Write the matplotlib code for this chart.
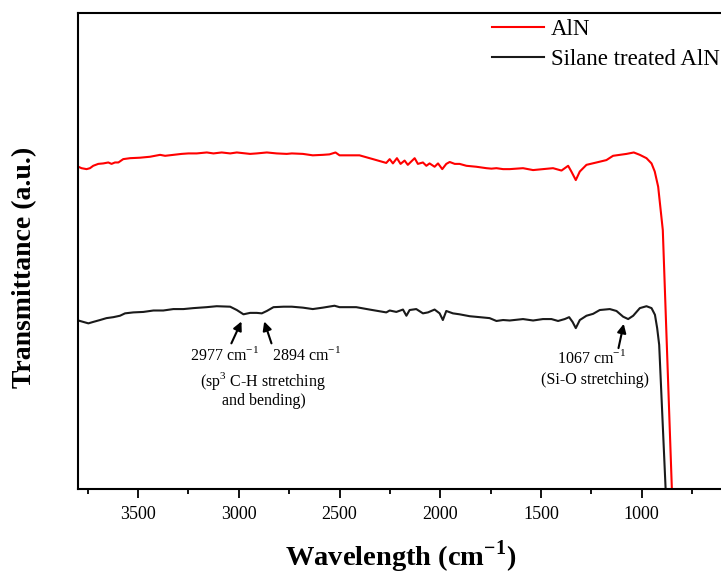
import numpy as np
import matplotlib
matplotlib.use("Agg")
import matplotlib.pyplot as plt

plt.rcParams['font.family'] = ['Liberation Serif', 'DejaVu Serif']
plt.rcParams['mathtext.fontset'] = 'custom'
plt.rcParams['mathtext.rm'] = 'Liberation Serif'
plt.rcParams['mathtext.bf'] = 'Liberation Serif:bold'

# AlN spectrum (wavenumber cm-1, transmittance a.u.)
aln_wn = [3822, 3797, 3781, 3756, 3739, 3723, 3698, 3673, 3648, 3632, 3615, 3598,
          3574, 3540, 3491, 3441, 3416, 3391, 3366, 3325, 3284, 3250, 3209, 3159,
          3126, 3085, 3043, 3010, 2944, 2911, 2861, 2812, 2762, 2737, 2682, 2633,
          2583, 2550, 2520, 2500, 2450, 2401, 2334, 2268, 2251, 2235, 2215, 2197,
          2177, 2161, 2127, 2111, 2086, 2069, 2053, 2028, 2011, 1990, 1970, 1953,
          1928, 1904, 1870, 1821, 1771, 1746, 1721, 1688, 1655, 1589, 1539, 1490,
          1440, 1398, 1365, 1349, 1327, 1307, 1274, 1224, 1175, 1142, 1075, 1039,
          1009, 976, 951, 935, 918, 895, 850, 820]
aln_t = [67.6, 67.7, 67.4, 67.2, 67.4, 67.9, 68.3, 68.4, 68.6, 68.3, 68.6, 68.6,
         69.3, 69.5, 69.6, 69.8, 70.0, 70.2, 70.0, 70.2, 70.4, 70.5, 70.5, 70.7,
         70.5, 70.7, 70.5, 70.7, 70.4, 70.5, 70.7, 70.5, 70.4, 70.5, 70.4, 70.1,
         70.2, 70.3, 70.7, 70.1, 70.1, 70.1, 69.3, 68.5, 69.3, 68.4, 69.5, 68.3,
         69.0, 68.1, 69.5, 68.3, 68.6, 67.9, 68.4, 67.7, 68.4, 67.2, 68.3, 68.7,
         68.3, 68.3, 67.9, 67.7, 67.4, 67.3, 67.4, 67.2, 67.2, 67.4, 67.0, 67.2,
         67.4, 66.9, 67.9, 66.7, 64.9, 66.7, 68.1, 68.6, 69.1, 70.0, 70.4, 70.7,
         70.2, 69.5, 68.4, 66.7, 63.5, 54.4, 0.0, -30.0]

# Silane treated AlN spectrum
sil_wn = [3822, 3797, 3772, 3747, 3723, 3689, 3657, 3623, 3590, 3565, 3524, 3474,
          3424, 3375, 3325, 3275, 3226, 3160, 3110, 3043, 3010, 2977, 2944, 2911,
          2886, 2861, 2828, 2778, 2737, 2682, 2633, 2583, 2525, 2500, 2417, 2351,
          2268, 2251, 2218, 2185, 2168, 2152, 2119, 2086, 2061, 2028, 2003, 1987,
          1970, 1937, 1904, 1854, 1804, 1755, 1721, 1688, 1655, 1589, 1539, 1490,
          1448, 1415, 1382, 1360, 1343, 1327, 1307, 1274, 1241, 1208, 1158, 1125,
          1092, 1067, 1042, 1009, 976, 951, 934, 923, 913, 881, 850]
sil_t = [35.3, 35.4, 35.1, 34.8, 35.1, 35.5, 35.9, 36.1, 36.4, 36.9, 37.1, 37.2,
         37.5, 37.5, 37.8, 37.8, 38.0, 38.2, 38.4, 38.3, 37.6, 36.7, 37.0, 37.0,
         36.9, 37.4, 38.2, 38.3, 38.3, 38.1, 37.8, 38.1, 38.5, 38.2, 38.2, 37.7,
         37.1, 37.5, 37.2, 37.7, 36.4, 37.6, 37.8, 36.9, 37.1, 37.7, 36.9, 35.5,
         37.4, 36.9, 36.7, 36.3, 36.1, 35.9, 35.3, 35.5, 35.4, 35.7, 35.4, 35.7,
         35.7, 35.3, 35.7, 36.1, 35.1, 33.8, 35.5, 36.4, 36.8, 37.6, 37.8, 37.4,
         36.2, 35.7, 36.4, 38.0, 38.4, 38.0, 36.6, 33.8, 30.3, 0.0, -30.0]

W, H = 721, 574
fig = plt.figure(figsize=(W / 100, H / 100), dpi=100)
ax = fig.add_axes([77.7 / W, (H - 489) / H, 684.8 / W, 476 / H])

ax.plot(aln_wn, aln_t, color='#ff0000', lw=1.5, label='AlN')
ax.plot(sil_wn, sil_t, color='#1a1a1a', lw=1.5, label='Silane treated AlN')

ax.set_xlim(3800, 400)
ax.set_ylim(0, 100)
ax.set_yticks([])
ax.set_xticks([3500, 3000, 2500, 2000, 1500, 1000])
ax.set_xticks(np.arange(3750, 400, -500), minor=True)
ax.tick_params(axis='x', which='major', direction='out', length=6.5, width=1.3,
               labelsize=13, pad=6)
ax.tick_params(axis='x', which='minor', direction='out', length=3.8, width=1.3)
for s in ax.spines.values():
    s.set_linewidth(1.5)

ax.set_xlabel('Wavelength (cm$^{\\mathbf{-1}}$)', fontsize=20.5, fontweight='bold')
ax.xaxis.set_label_coords((401 - 77.7) / 684.8, -0.103)
fig.text(25 / W, 1 - 267 / H, 'Transmittance (a.u.)', rotation=90, fontsize=20,
         fontweight='bold', ha='center', va='center')

# arrows pointing at the absorption bands
arr = dict(arrowstyle='-|>', color='k', lw=1.5, mutation_scale=13, shrinkA=0, shrinkB=0)
ax.annotate('', xy=(2987, 35.2), xytext=(3037, 30.6), arrowprops=arr)
ax.annotate('', xy=(2874, 35.2), xytext=(2838, 30.6), arrowprops=arr)
ax.annotate('', xy=(1089, 34.7), xytext=(1115, 29.6), arrowprops=arr)

fs = 11.5
ax.text(3072, 28.2, '2977 cm$^{-1}$', fontsize=fs, ha='center', va='center')
ax.text(2665, 28.2, '2894 cm$^{-1}$', fontsize=fs, ha='center', va='center')
ax.text(2878, 20.9, '(sp$^3$ C-H stretching\nand bending)', fontsize=fs,
        ha='center', va='center', linespacing=1.15)
ax.text(1248, 27.5, '1067 cm$^{-1}$', fontsize=fs, ha='center', va='center')
ax.text(1231, 22.8, '(Si-O stretching)', fontsize=fs, ha='center', va='center')

ax.legend(loc='upper right', bbox_to_anchor=(720 / W, 1 - 19 / H),
          bbox_transform=fig.transFigure, frameon=False, fontsize=16.5,
          borderpad=0, borderaxespad=0, handlelength=2.3, handletextpad=0.3,
          labelspacing=0.4)

fig.savefig('out.png', dpi=100)
